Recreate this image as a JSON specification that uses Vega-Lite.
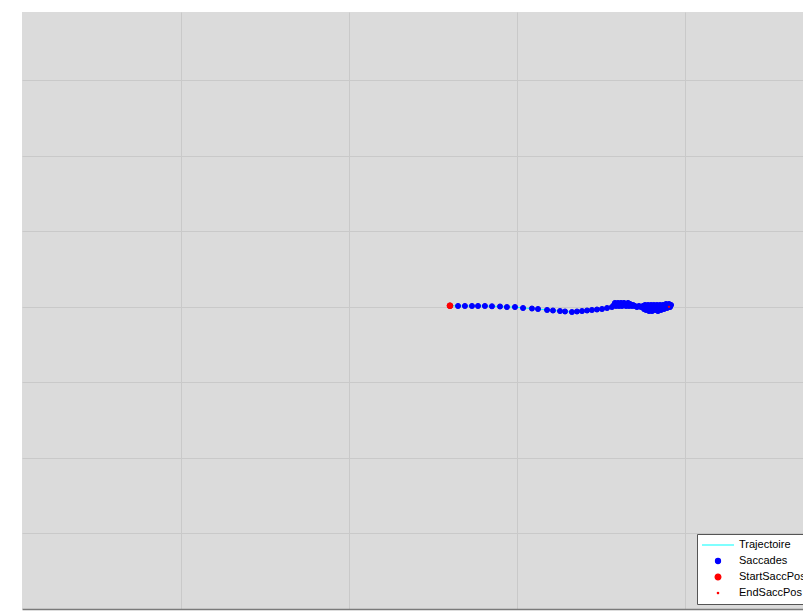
{
  "$schema": "https://vega.github.io/schema/vega-lite/v6.json",
  "autosize": {"type": "none"},
  "width": 781,
  "height": 597,
  "padding": {"left": 22, "top": 12, "right": 0, "bottom": 4},
  "background": "white",
  "config": {
    "view": {"fill": "#dbdbdb", "stroke": null},
    "font": "Liberation Sans"
  },
  "data": {
    "values": [
      {"i": 0, "x": 260.1, "y": 401.3, "series": "Saccades"},
      {"i": 1, "x": 264.9, "y": 401.0, "series": "Saccades"},
      {"i": 2, "x": 269.0, "y": 401.0, "series": "Saccades"},
      {"i": 3, "x": 273.2, "y": 401.0, "series": "Saccades"},
      {"i": 4, "x": 276.8, "y": 401.0, "series": "Saccades"},
      {"i": 5, "x": 280.9, "y": 401.0, "series": "Saccades"},
      {"i": 6, "x": 285.1, "y": 400.6, "series": "Saccades"},
      {"i": 7, "x": 289.9, "y": 400.3, "series": "Saccades"},
      {"i": 8, "x": 294.0, "y": 399.6, "series": "Saccades"},
      {"i": 9, "x": 298.8, "y": 399.6, "series": "Saccades"},
      {"i": 10, "x": 303.6, "y": 398.3, "series": "Saccades"},
      {"i": 11, "x": 308.9, "y": 397.6, "series": "Saccades"},
      {"i": 12, "x": 312.5, "y": 397.0, "series": "Saccades"},
      {"i": 13, "x": 317.9, "y": 395.7, "series": "Saccades"},
      {"i": 14, "x": 321.4, "y": 395.0, "series": "Saccades"},
      {"i": 15, "x": 325.6, "y": 394.3, "series": "Saccades"},
      {"i": 16, "x": 328.6, "y": 393.7, "series": "Saccades"},
      {"i": 17, "x": 332.7, "y": 393.0, "series": "Saccades"},
      {"i": 18, "x": 335.7, "y": 393.7, "series": "Saccades"},
      {"i": 19, "x": 338.7, "y": 394.3, "series": "Saccades"},
      {"i": 20, "x": 341.7, "y": 395.0, "series": "Saccades"},
      {"i": 21, "x": 344.6, "y": 395.7, "series": "Saccades"},
      {"i": 22, "x": 347.6, "y": 396.3, "series": "Saccades"},
      {"i": 23, "x": 350.6, "y": 397.0, "series": "Saccades"},
      {"i": 24, "x": 353.6, "y": 398.3, "series": "Saccades"},
      {"i": 25, "x": 356.5, "y": 399.6, "series": "Saccades"},
      {"i": 26, "x": 357.7, "y": 402.3, "series": "Saccades"},
      {"i": 27, "x": 358.3, "y": 405.0, "series": "Saccades"},
      {"i": 28, "x": 358.9, "y": 401.0, "series": "Saccades"},
      {"i": 29, "x": 359.5, "y": 403.6, "series": "Saccades"},
      {"i": 30, "x": 360.1, "y": 405.0, "series": "Saccades"},
      {"i": 31, "x": 360.7, "y": 401.0, "series": "Saccades"},
      {"i": 32, "x": 361.3, "y": 403.6, "series": "Saccades"},
      {"i": 33, "x": 361.9, "y": 405.0, "series": "Saccades"},
      {"i": 34, "x": 362.5, "y": 401.0, "series": "Saccades"},
      {"i": 35, "x": 363.1, "y": 403.6, "series": "Saccades"},
      {"i": 36, "x": 363.7, "y": 405.0, "series": "Saccades"},
      {"i": 37, "x": 364.3, "y": 402.3, "series": "Saccades"},
      {"i": 38, "x": 364.9, "y": 401.0, "series": "Saccades"},
      {"i": 39, "x": 365.5, "y": 403.6, "series": "Saccades"},
      {"i": 40, "x": 366.1, "y": 405.0, "series": "Saccades"},
      {"i": 41, "x": 366.7, "y": 401.0, "series": "Saccades"},
      {"i": 42, "x": 367.3, "y": 403.6, "series": "Saccades"},
      {"i": 43, "x": 367.9, "y": 402.3, "series": "Saccades"},
      {"i": 44, "x": 368.5, "y": 401.0, "series": "Saccades"},
      {"i": 45, "x": 369.1, "y": 402.3, "series": "Saccades"},
      {"i": 46, "x": 370.2, "y": 401.0, "series": "Saccades"},
      {"i": 47, "x": 371.4, "y": 399.6, "series": "Saccades"},
      {"i": 48, "x": 372.6, "y": 401.0, "series": "Saccades"},
      {"i": 49, "x": 373.8, "y": 399.6, "series": "Saccades"},
      {"i": 50, "x": 375.0, "y": 401.0, "series": "Saccades"},
      {"i": 51, "x": 375.6, "y": 397.0, "series": "Saccades"},
      {"i": 52, "x": 376.2, "y": 402.3, "series": "Saccades"},
      {"i": 53, "x": 376.8, "y": 395.7, "series": "Saccades"},
      {"i": 54, "x": 377.4, "y": 399.6, "series": "Saccades"},
      {"i": 55, "x": 378.0, "y": 402.3, "series": "Saccades"},
      {"i": 56, "x": 378.6, "y": 394.3, "series": "Saccades"},
      {"i": 57, "x": 379.2, "y": 398.3, "series": "Saccades"},
      {"i": 58, "x": 379.8, "y": 402.3, "series": "Saccades"},
      {"i": 59, "x": 380.4, "y": 394.3, "series": "Saccades"},
      {"i": 60, "x": 381.0, "y": 399.6, "series": "Saccades"},
      {"i": 61, "x": 381.5, "y": 402.3, "series": "Saccades"},
      {"i": 62, "x": 382.1, "y": 395.7, "series": "Saccades"},
      {"i": 63, "x": 382.7, "y": 398.3, "series": "Saccades"},
      {"i": 64, "x": 383.3, "y": 402.3, "series": "Saccades"},
      {"i": 65, "x": 383.9, "y": 394.3, "series": "Saccades"},
      {"i": 66, "x": 384.5, "y": 399.6, "series": "Saccades"},
      {"i": 67, "x": 385.1, "y": 402.3, "series": "Saccades"},
      {"i": 68, "x": 385.7, "y": 395.7, "series": "Saccades"},
      {"i": 69, "x": 386.3, "y": 399.6, "series": "Saccades"},
      {"i": 70, "x": 386.9, "y": 402.3, "series": "Saccades"},
      {"i": 71, "x": 387.5, "y": 397.0, "series": "Saccades"},
      {"i": 72, "x": 388.1, "y": 401.0, "series": "Saccades"},
      {"i": 73, "x": 388.7, "y": 403.6, "series": "Saccades"},
      {"i": 74, "x": 389.3, "y": 398.3, "series": "Saccades"},
      {"i": 75, "x": 389.9, "y": 401.0, "series": "Saccades"},
      {"i": 76, "x": 390.5, "y": 403.6, "series": "Saccades"},
      {"i": 77, "x": 391.1, "y": 399.6, "series": "Saccades"},
      {"i": 78, "x": 391.7, "y": 402.3, "series": "Saccades"},
      {"i": 79, "x": 390.5, "y": 399.9, "series": "Saccades"},
      {"i": 80, "x": 260.1, "y": 401.3, "series": "StartSaccPos"},
      {"i": 81, "x": 390.5, "y": 399.9, "series": "EndSaccPos"}
    ]
  },
  "encoding": {
    "x": {
      "field": "x", "type": "quantitative",
      "scale": {"domain": [5.36, 470.24], "nice": false, "zero": false},
      "axis": {"title": null, "values": [100, 200, 300, 400], "labels": false, "ticks": false,
               "grid": true, "gridColor": "#c9c9c9", "gridWidth": 1,
               "domain": true, "domainColor": "#7a7a7a", "domainWidth": 1.5}
    },
    "y": {
      "field": "y", "type": "quantitative",
      "scale": {"domain": [0, 790], "nice": false, "zero": false},
      "axis": {"title": null, "values": [100, 200, 300, 400, 500, 600, 700], "labels": false, "ticks": false,
               "grid": true, "gridColor": "#c9c9c9", "gridWidth": 1, "domain": false}
    }
  },
  "layer": [
    {
      "transform": [{"filter": "datum.series === 'Saccades'"}],
      "mark": {"type": "line", "color": "#00ffff", "strokeWidth": 1},
      "encoding": {"order": {"field": "i", "type": "quantitative"}}
    },
    {
      "mark": {"type": "point", "filled": true, "opacity": 1, "strokeWidth": 1},
      "encoding": {
        "color": {
          "field": "series", "type": "nominal",
          "scale": {"domain": ["Trajectoire", "Saccades", "StartSaccPos", "EndSaccPos"],
                    "range": ["#00ffff", "#0000ff", "#ff0000", "#ff0000"]},
          "legend": {
            "title": null, "orient": "none", "legendX": 675, "legendY": 522,
            "fillColor": "white", "strokeColor": "#555555", "padding": 4,
            "clipHeight": 14, "rowPadding": 2, "labelOffset": 4,
            "labelFont": "Liberation Sans", "labelFontSize": 11, "labelColor": "#000000",
            "labelLimit": 300, "symbolStrokeWidth": 1.2
          }
        },
        "stroke": {
          "field": "series", "type": "nominal",
          "scale": {"domain": ["Trajectoire", "Saccades", "StartSaccPos", "EndSaccPos"],
                    "range": ["#00ffff", "#0000ff", "#ff0000", "#ff0000"]}
        },
        "shape": {
          "field": "series", "type": "nominal",
          "scale": {"domain": ["Trajectoire", "Saccades", "StartSaccPos", "EndSaccPos"],
                    "range": ["stroke", "circle", "circle", "circle"]}
        },
        "size": {
          "field": "series", "type": "nominal",
          "scale": {"type": "ordinal", "domain": ["Trajectoire", "Saccades", "StartSaccPos", "EndSaccPos"],
                    "range": [1024, 26, 34, 2]}
        },
        "order": {"field": "i", "type": "quantitative"}
      }
    }
  ]
}
